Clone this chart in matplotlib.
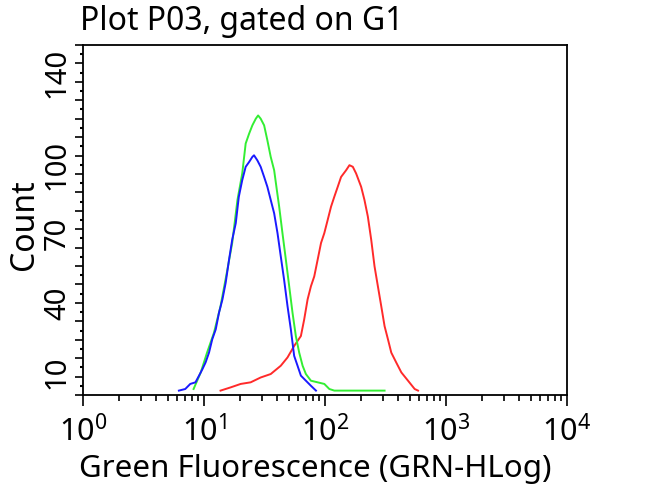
import matplotlib
matplotlib.use("Agg")
import matplotlib.pyplot as plt
from matplotlib.ticker import MultipleLocator, FixedLocator, FixedFormatter, LogLocator, NullFormatter

plt.rcParams['font.family'] = ['Noto Sans', 'DejaVu Sans']
plt.rcParams['mathtext.default'] = 'regular'

title = "Plot P03, gated on G1"
xlabel = "Green Fluorescence (GRN-HLog)"
ylabel = "Count"

count_ticks = [10, 40, 70, 100, 140]
count_labels = ["10", "40", "70", "100", "140"]
x_ticks = [1, 10, 100, 1000, 10000]
x_labels = [r"$10^{0}$", r"$10^{1}$", r"$10^{2}$", r"$10^{3}$", r"$10^{4}$"]

green_x = [8.2, 9.4, 10.6, 12.1, 13.7, 15.6, 17.1, 18.9, 20.7, 22.1, 23.6, 25.1, 26.8, 28.0,
           29.4, 31.4, 33.4, 35.6, 38.0, 40.0, 41.8, 44.5, 47.5, 50.6, 53.9, 57.4, 61.2, 65.3,
           69.5, 76.5, 86.9, 98.7, 108.6, 119.4, 310.7]
green_y = [2.6, 9.8, 18.4, 27.1, 38.6, 54.4, 66.0, 84.7, 96.2, 109.2, 113.5, 117.1, 120.0, 121.4,
           120.0, 117.1, 110.6, 103.4, 97.6, 89.0, 81.8, 70.3, 58.7, 47.2, 35.7, 25.6, 18.4, 12.7,
           9.1, 6.2, 5.5, 4.8, 2.6, 1.9, 1.9]

blue_x = [6.2, 7.0, 7.7, 8.5, 9.1, 9.7, 10.3, 11.0, 11.7, 12.5, 13.3, 14.2, 15.1, 16.1, 17.1,
          18.3, 19.4, 20.7, 22.1, 23.6, 25.1, 25.9, 27.6, 29.4, 31.4, 33.4, 35.6, 38.0, 40.5,
          43.1, 45.9, 49.0, 52.2, 55.6, 59.3, 63.2, 69.5, 76.5, 84.2]
blue_y = [1.9, 2.6, 4.8, 5.5, 8.4, 11.2, 14.1, 18.4, 24.2, 28.5, 35.7, 41.5, 48.7, 58.7, 67.4,
          74.6, 86.1, 93.3, 99.1, 101.2, 103.4, 104.1, 101.9, 99.1, 94.7, 90.4, 84.7, 78.9, 70.3,
          60.2, 50.1, 38.6, 28.5, 17.0, 12.7, 8.4, 6.2, 4.0, 1.9]

red_x = [13.7, 16.6, 20.1, 24.3, 29.4, 35.6, 43.1, 49.0, 55.6, 63.2, 67.3, 71.8, 76.5, 81.5,
         86.9, 92.7, 98.7, 105.2, 112.2, 119.4, 127.4, 135.8, 149.4, 159.2, 169.8, 180.8, 199.0,
         211.9, 226.0, 241.0, 256.6, 273.6, 291.6, 310.7, 331.3, 353.0, 388.0, 427.5, 485.5,
         550.8, 587.5]
red_y = [1.9, 3.3, 4.8, 5.5, 7.6, 9.1, 12.7, 16.3, 21.3, 25.6, 32.8, 41.5, 47.2, 51.5, 58.7,
         66.0, 70.3, 76.0, 81.8, 86.1, 90.4, 94.7, 97.6, 99.8, 99.1, 96.2, 90.4, 84.7, 77.5,
         67.4, 55.9, 47.2, 38.6, 29.9, 24.2, 18.4, 14.1, 9.8, 6.2, 2.6, 1.9]

fig = plt.figure(figsize=(6.5, 4.88), dpi=100)
ax = fig.add_axes([0.1277, 0.1906, 0.7446, 0.7172])

ax.plot(red_x, red_y, color="#ff2a2a", lw=1.4)
ax.plot(green_x, green_y, color="#33ee33", lw=1.4)
ax.plot(blue_x, blue_y, color="#1a1aff", lw=1.4)

ax.set_xscale("log")
ax.set_xlim(1, 10000)
ax.set_ylim(0, 152)

ax.xaxis.set_major_locator(FixedLocator(x_ticks))
ax.xaxis.set_major_formatter(FixedFormatter(x_labels))
ax.xaxis.set_minor_locator(LogLocator(base=10, subs=range(2, 10)))
ax.xaxis.set_minor_formatter(NullFormatter())
ax.tick_params(axis="x", which="major", direction="out", length=8, width=1.2, labelsize=22, pad=7)
ax.tick_params(axis="x", which="minor", direction="out", length=4, width=1.2)

ax.yaxis.set_major_locator(MultipleLocator(8))
ax.yaxis.set_minor_locator(MultipleLocator(4))
ax.yaxis.set_major_formatter(NullFormatter())
ax.tick_params(axis="y", which="major", direction="out", length=5.5, width=1.2)
ax.tick_params(axis="y", which="minor", direction="out", length=2, width=1.5)

sec = ax.secondary_yaxis("left")
sec.set_yticks(count_ticks, labels=count_labels)
sec.tick_params(length=0, pad=8, labelsize=21)
for lab in sec.get_yticklabels():
    lab.set_rotation(90)
    lab.set_va("center")
sec.spines["left"].set_visible(False)

for s in ax.spines.values():
    s.set_linewidth(1.3)

ax.set_xlabel(xlabel, fontsize=22.5)
ax.xaxis.set_label_coords(0.48, -0.17)
fig.text(0.012, 0.54, ylabel, rotation=90, fontsize=23, ha="left", va="center")
fig.text(0.123, 0.955, title, fontsize=23, ha="left", va="center")

fig.savefig("out.png", dpi=100)
